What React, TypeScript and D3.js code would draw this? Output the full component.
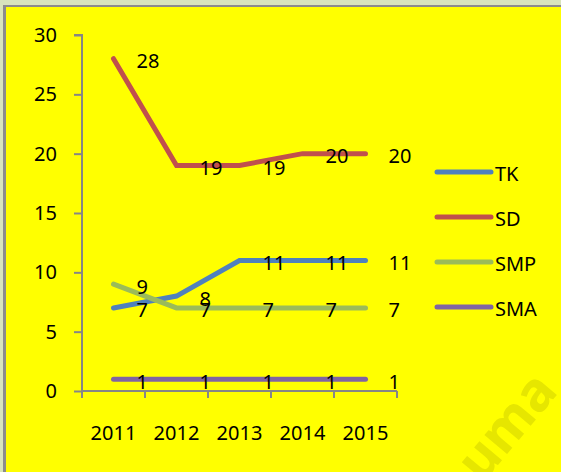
import React, {useEffect, useRef} from 'react'
import * as d3 from 'd3'

const width = 561
const height = 472

const years = ['2011', '2012', '2013', '2014', '2015']
const seriesNames = ['TK', 'SD', 'SMP', 'SMA']
const tkValues = [7, 8, 11, 11, 11]
const sdValues = [28, 19, 19, 20, 20]
const smpValues = [9, 7, 7, 7, 7]
const smaValues = [1, 1, 1, 1, 1]
const yTicks = [0, 5, 10, 15, 20, 25, 30]
const colors = ['#4F81BD', '#C0504D', '#9BBB59', '#8064A2']

const font = '"Noto Sans", sans-serif'

export default function App() {
    const ref = useRef<SVGSVGElement>(null)

    useEffect(() => {
        const svg = d3.select(ref.current)
        svg.selectAll('*').remove()

        // frame
        svg.append('rect').attr('width', width).attr('height', height).attr('fill', '#D8E4BC')
        svg.append('rect').attr('x', 3).attr('y', 5).attr('width', 600).attr('height', 500).attr('fill', '#8C8C8C')
        svg.append('rect').attr('x', 6).attr('y', 7).attr('width', 600).attr('height', 500).attr('fill', '#FFFF00')

        // faint watermark, cut by the lower right edge
        svg.append('text')
            .attr('transform', 'translate(482, 484) rotate(-50)')
            .attr('font-family', font)
            .attr('font-weight', 'bold')
            .attr('font-size', 54)
            .attr('fill', '#E6E600')
            .text('uma')

        const x = d3.scaleBand().domain(years).range([82, 397])
        const y = d3.scaleLinear().domain([0, 30]).range([391, 35])
        const cx = (d: string) => (x(d) as number) + x.bandwidth() / 2

        // y axis
        const yAxis = d3.axisLeft(y).tickValues(yTicks).tickSize(8).tickPadding(17)
        const yg = svg.append('g').attr('transform', 'translate(82,0)').call(yAxis)
        yg.selectAll('path, line').attr('stroke', '#868686').attr('stroke-width', 2)
        yg.select('.domain').attr('d', `M-8,${y(30)}H0V${y(0)}`)
        yg.selectAll('text').attr('font-size', 20).attr('font-family', font).attr('fill', '#000')

        // x axis with ticks on category boundaries
        const xg = svg.append('g')
        xg.append('line')
            .attr('x1', 82).attr('x2', 397).attr('y1', y(0)).attr('y2', y(0))
            .attr('stroke', '#868686').attr('stroke-width', 2)
        const bounds = [...years.map(d => x(d) as number), 397]
        xg.selectAll('.tick').data(bounds).join('line')
            .attr('x1', d => d).attr('x2', d => d)
            .attr('y1', y(0)).attr('y2', y(0) + 7)
            .attr('stroke', '#868686').attr('stroke-width', 2)
        xg.selectAll('text').data(years).join('text')
            .attr('x', d => cx(d)).attr('y', 440)
            .attr('text-anchor', 'middle')
            .attr('font-size', 20).attr('font-family', font)
            .text(d => d)

        const series = [tkValues, sdValues, smpValues, smaValues]
        const line = d3.line<number>().x((d, i) => cx(years[i])).y(d => y(d))

        series.forEach((vals, k) => {
            svg.append('path')
                .attr('d', line(vals))
                .attr('fill', 'none')
                .attr('stroke', colors[k])
                .attr('stroke-width', 5)
                .attr('stroke-linecap', 'round')
        })

        series.forEach(vals => {
            svg.append('g').selectAll('text').data(vals).join('text')
                .attr('x', (d, i) => cx(years[i]) + 23)
                .attr('y', d => y(d) + 2)
                .attr('dominant-baseline', 'central')
                .attr('font-size', 20).attr('font-family', font)
                .text(d => d)
        })

        // legend
        const legend = svg.append('g')
        seriesNames.forEach((name, k) => {
            const ly = 172 + k * 45
            legend.append('line')
                .attr('x1', 437).attr('x2', 491).attr('y1', ly).attr('y2', ly)
                .attr('stroke', colors[k]).attr('stroke-width', 5).attr('stroke-linecap', 'round')
            legend.append('text')
                .attr('x', 495).attr('y', ly + 1)
                .attr('dominant-baseline', 'central')
                .attr('font-size', 20).attr('font-family', font)
                .text(name)
        })
    }, [])

    return (
        <div style={{position: 'absolute', left: 0, top: 0}}>
            <svg ref={ref} width={width} height={height} style={{display: 'block'}} />
        </div>
    )
}
